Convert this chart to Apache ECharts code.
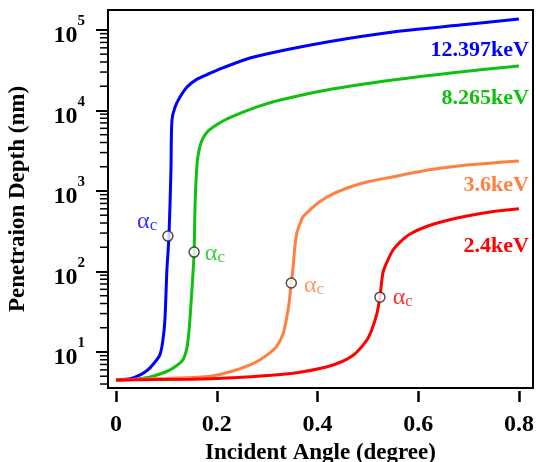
<!DOCTYPE html>
<html>
<head>
<meta charset="utf-8">
<title>Penetration depth vs incident angle</title>
<script src="https://cdn.jsdelivr.net/npm/echarts@6/dist/echarts.min.js"></script>
<style>
html, body { margin: 0; padding: 0; background: #fff; }
#chart { width: 536px; height: 462px; }
</style>
</head>
<body>
<div id="chart"></div>
<script>
// energies
var seriesNames = ['12.397keV', '8.265keV', '3.6keV', '2.4keV']

// 12.397 keV
var angleBlue = [0, 0.03, 0.048, 0.062, 0.075, 0.087, 0.093, 0.097, 0.101, 0.105, 0.109, 0.111, 0.117, 0.127, 0.141, 0.161, 0.187, 0.213, 0.266, 0.326, 0.419, 0.55, 0.683, 0.8]
var depthBlue = [4.5, 4.7, 5.2, 5.9, 7.2, 9.2, 14, 25, 105, 270, 1800, 7600, 11000, 14700, 19600, 24500, 29000, 34000, 44900, 54800, 71000, 94400, 115000, 137000]

// 8.265 keV
var angleGreen = [0, 0.04, 0.068, 0.09, 0.107, 0.122, 0.133, 0.141, 0.145, 0.147, 0.151, 0.155, 0.157, 0.161, 0.165, 0.171, 0.181, 0.193, 0.216, 0.246, 0.286, 0.326, 0.419, 0.55, 0.683, 0.8]
var depthGreen = [4.5, 4.6, 4.9, 5.4, 6.0, 6.9, 8.0, 11.5, 18.6, 27, 64, 174, 710, 2230, 3240, 4300, 5400, 6240, 7620, 9200, 11400, 13500, 18000, 23900, 30000, 35700]

// 3.6 keV
var angleOrange = [0, 0.1, 0.187, 0.232, 0.266, 0.286, 0.306, 0.32, 0.332, 0.338, 0.343, 0.348, 0.352, 0.355, 0.359, 0.365, 0.371, 0.385, 0.405, 0.431, 0.465, 0.498, 0.548, 0.598, 0.647, 0.697, 0.747, 0.8]
var depthOrange = [4.5, 4.7, 5.0, 5.8, 6.9, 8.0, 9.8, 12, 17, 25, 38, 72, 120, 200, 300, 390, 475, 581, 740, 920, 1120, 1295, 1490, 1722, 1930, 2105, 2230, 2360]

// 2.4 keV
var angleRed = [0, 0.15, 0.233, 0.3, 0.365, 0.431, 0.471, 0.498, 0.508, 0.518, 0.524, 0.53, 0.538, 0.55, 0.564, 0.584, 0.614, 0.653, 0.697, 0.743, 0.8]
var depthRed = [4.5, 4.6, 4.8, 5.1, 5.6, 6.9, 9.1, 14, 19, 30, 48, 96, 131, 185, 232, 292, 357, 424, 489, 548, 600]

// critical angle points
var alphaAngles = [0.103, 0.155, 0.348, 0.524]
var alphaDepths = [275, 174, 72, 48]

// axis ticks
var xTicks = [0, 0.2, 0.4, 0.6, 0.8]
var yExponents = [1, 2, 3, 4, 5]

var xMin = -0.016, xMax = 0.828
var yMin = 3.57, yMax = 177000

// styles
var colors = ['#0000ff', '#10c010', '#ff8040', '#ff0000']
var nameOffsets = [[10, 31], [10, 32], [10, 24], [10, 37]]
var alphaPos = ['left', 'right', 'right', 'right']
var alphaDist = [5, 5, 7, 7]
var alphaOffsets = [[0, -17], [0, -1], [0, 0], [0, -2]]
var serif = 'Liberation Serif'

// 2..9 x 10^k inside the axis range
var minorValues = []
for (var k = 0; k <= 5; k++) {
    for (var m = 2; m <= 9; m++) {
        var v = m * Math.pow(10, k)
        if (v >= yMin && v <= yMax) minorValues.push(v)
    }
}

function lineSeries(i, angles, depths) {
    var data = angles.map(function (a, j) { return [a, depths[j]] })
    return {
        type: 'line',
        name: seriesNames[i],
        data: data,
        yAxisIndex: 0,
        showSymbol: false,
        smooth: 0.3,
        lineStyle: { color: colors[i], width: 3 },
        itemStyle: { color: colors[i] },
        markPoint: {
            symbol: 'circle',
            symbolSize: 0,
            silent: true,
            data: [{ coord: data[data.length - 1] }],
            label: {
                show: true,
                formatter: seriesNames[i],
                position: 'inside',
                align: 'right',
                verticalAlign: 'middle',
                offset: nameOffsets[i],
                color: colors[i],
                fontSize: 22,
                fontWeight: 'bold',
                fontFamily: serif
            }
        }
    }
}

var alphaData = alphaAngles.map(function (a, i) {
    return {
        value: [a, alphaDepths[i]],
        label: {
            show: true,
            position: alphaPos[i],
            distance: alphaDist[i],
            offset: alphaOffsets[i],
            formatter: '{a|α}{c|c}',
            rich: {
                a: { color: colors[i], fontSize: 24, lineHeight: 30, verticalAlign: 'bottom', fontFamily: serif },
                c: { color: colors[i], fontSize: 17, lineHeight: 17, verticalAlign: 'bottom', fontFamily: serif }
            }
        }
    }
})

var chart = echarts.init(document.getElementById('chart'))
chart.setOption({
    animation: false,
    backgroundColor: '#fff',
    grid: {
        show: true, left: 108, right: 3, top: 10, bottom: 74,
        outerBoundsMode: 'none', containLabel: false,
        borderColor: '#000', borderWidth: 2
    },
    xAxis: {
        type: 'value',
        min: xMin,
        max: xMax,
        offset: 3,
        axisLine: { show: false, onZero: false },
        splitLine: { show: false },
        axisTick: { customValues: xTicks, length: 11, lineStyle: { width: 2.5, color: '#000' } },
        axisLabel: {
            customValues: xTicks,
            margin: 22,
            color: '#000',
            fontSize: 24,
            fontWeight: 'bold',
            fontFamily: serif,
            formatter: function (v) { return String(v) }
        },
        name: 'Incident Angle (degree)',
        nameLocation: 'middle',
        nameGap: 44,
        nameTextStyle: { color: '#000', fontSize: 23, fontWeight: 'bold', fontFamily: serif }
    },
    yAxis: [
        // data axis
        { type: 'log', logBase: 10, min: yMin, max: yMax, show: false, axisLine: { onZero: false } },
        // decades + labels
        {
            type: 'value',
            min: Math.log10(yMin),
            max: Math.log10(yMax),
            position: 'left',
            axisLine: { show: false, onZero: false },
            splitLine: { show: false },
            axisTick: { show: true, customValues: yExponents, length: 12, lineStyle: { width: 2, color: '#000' } },
            axisLabel: {
                customValues: yExponents,
                margin: 23,
                padding: [2, 0, 0, 0],
                formatter: function (v) { return '{b|10}{s|' + v + '}' },
                rich: {
                    b: { color: '#000', fontSize: 24, fontWeight: 'bold', fontFamily: serif, lineHeight: 34, verticalAlign: 'bottom' },
                    s: { color: '#000', fontSize: 15, fontWeight: 'bold', fontFamily: serif, lineHeight: 15, verticalAlign: 'top' }
                }
            },
            name: 'Penetraion Depth (nm)',
            nameLocation: 'middle',
            nameGap: 78,
            nameTextStyle: { color: '#000', fontSize: 23, fontWeight: 'bold', fontFamily: serif }
        }
    ],
    series: [
        // minor log ticks on the left edge of the frame
        {
            type: 'custom',
            yAxisIndex: 0,
            silent: true,
            clip: false,
            z: 1,
            data: minorValues.map(function (v) { return [xMin, v] }),
            renderItem: function (params, api) {
                var p = api.coord([api.value(0), api.value(1)])
                return {
                    type: 'line',
                    shape: { x1: p[0] - 8, y1: p[1], x2: p[0], y2: p[1] },
                    style: { stroke: '#000', lineWidth: 1.5 }
                }
            }
        },
        lineSeries(0, angleBlue, depthBlue),
        lineSeries(1, angleGreen, depthGreen),
        lineSeries(2, angleOrange, depthOrange),
        lineSeries(3, angleRed, depthRed),
        {
            type: 'scatter',
            yAxisIndex: 0,
            symbol: 'circle',
            symbolSize: 10,
            z: 5,
            itemStyle: { color: '#fff', borderColor: '#222', borderWidth: 1.5 },
            data: alphaData
        }
    ]
})
</script>
</body>
</html>
